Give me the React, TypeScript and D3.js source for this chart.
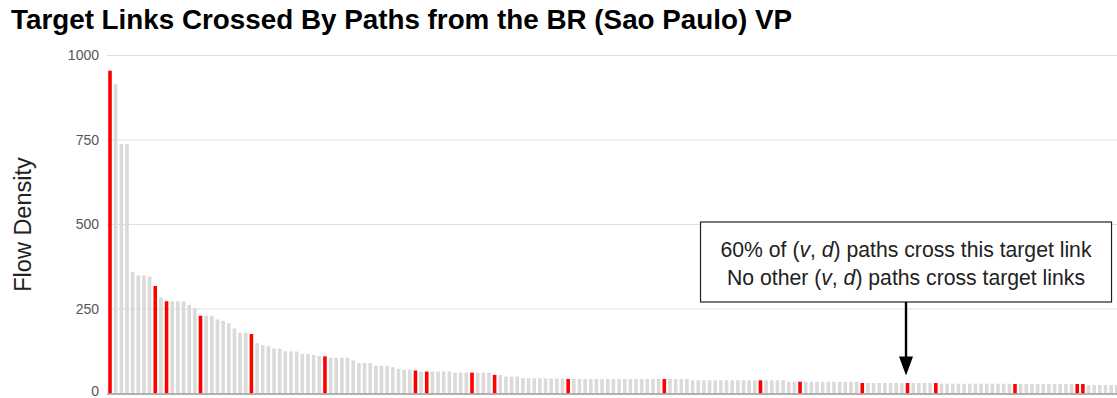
import React from "react";
import * as d3 from "d3";

// Flow density of each target link, sorted from highest to lowest
const flowDensity: number[] = [
  955, 915, 738, 738, 360, 349, 349, 346, 318, 284,
  273, 273, 273, 273, 262, 252, 230, 230, 230, 219,
  215, 208, 192, 180, 180, 176, 149, 143, 140, 133,
  133, 125, 125, 124, 117, 117, 114, 111, 110, 106,
  106, 106, 106, 98, 90, 90, 90, 82, 82, 82,
  78, 73, 70, 70, 68, 65, 65, 65, 65, 65,
  65, 62, 62, 62, 62, 62, 62, 62, 55, 55,
  50, 50, 50, 46, 45, 45, 45, 45, 44, 44,
  44, 43, 43, 43, 43, 43, 43, 43, 43, 43,
  43, 43, 43, 43, 43, 43, 43, 43, 43, 43,
  43, 43, 43, 39, 39, 39, 39, 39, 39, 39,
  39, 39, 39, 39, 39, 39, 39, 39, 39, 39,
  35, 35, 35, 35, 35, 35, 35, 35, 35, 35,
  35, 35, 35, 31, 31, 31, 31, 31, 31, 31,
  31, 31, 31, 31, 31, 31, 31, 29, 29, 29,
  29, 29, 29, 29, 29, 29, 29, 29, 29, 29,
  28, 28, 28, 28, 28, 28, 28, 28, 28, 28,
  28, 28, 28, 25, 25, 25, 25, 25, 25,
];

// Links crossed by paths from the vantage point (highlighted in red)
const crossedLinks: number[] = [
  0, 8, 10, 16, 25, 38, 54, 56, 64, 68, 81, 98, 115, 122, 133, 141, 146, 160, 171, 172,
];

// The link the annotation points at
const annotatedLink = 141;

const yTicks: number[] = [0, 250, 500, 750, 1000];

const titleText = "Target Links Crossed By Paths from the BR (Sao Paulo) VP";
const yAxisTitle = "Flow Density";

const W = 1117;
const H = 398;
const FONT = "'Liberation Sans', Arial, Helvetica, sans-serif";

export default function App() {
  const indices = flowDensity.map((_, i) => i);
  const x = d3
    .scaleBand<number>()
    .domain(indices)
    .range([108.2, 1118.6])
    .paddingInner(0.364)
    .paddingOuter(0);
  const y = d3.scaleLinear().domain([0, 1000]).range([393.5, 55.5]);
  const red = new Set(crossedLinks);

  const arrowX = (x(annotatedLink) as number) + x.bandwidth() / 2 - 1.5;
  const boxW = 411;
  const boxX = arrowX - boxW / 2;
  const boxY = 222;
  const boxH = 80;

  return (
    <svg
      width={W}
      height={H}
      style={{ position: "absolute", left: 0, top: 0, background: "#fff" }}
      fontFamily={FONT}
    >
      <rect x={0} y={0} width={W} height={H} fill="#fff" />
      <text x={11} y={29} fontSize={27.8} fontWeight="bold" fill="#000">
        {titleText}
      </text>

      {/* gridlines */}
      {yTicks
        .filter((t) => t > 0)
        .map((t) => (
          <line
            key={t}
            x1={107}
            x2={W}
            y1={y(t)}
            y2={y(t)}
            stroke="#e0e0e0"
            strokeWidth={1.2}
          />
        ))}

      {/* tick labels */}
      {yTicks.map((t) => (
        <text
          key={"l" + t}
          x={99}
          y={Math.min(y(t), 391)}
          dy="0.35em"
          textAnchor="end"
          fontSize={14}
          fill="#555"
        >
          {t}
        </text>
      ))}

      <text
        transform={`translate(31,224.5) rotate(-90)`}
        textAnchor="middle"
        fontSize={23.5}
        fill="#222"
      >
        {yAxisTitle}
      </text>

      {/* bars */}
      {flowDensity.map((v, i) => (
        <rect
          key={i}
          x={x(i)}
          y={y(v)}
          width={x.bandwidth()}
          height={y(0) - y(v)}
          fill={red.has(i) ? "#ff0000" : "#dadada"}
        />
      ))}

      {/* baseline */}
      <line x1={107} x2={W} y1={y(0) + 0.5} y2={y(0) + 0.5} stroke="#999" strokeWidth={1.6} />

      {/* annotation */}
      <rect x={boxX} y={boxY} width={boxW} height={boxH} fill="#fff" stroke="#222" strokeWidth={1.2} />
      <text x={arrowX} y={256.5} textAnchor="middle" fontSize={21.2} fill="#222">
        60% of (<tspan fontStyle="italic">v</tspan>, <tspan fontStyle="italic">d</tspan>) paths cross this target link
      </text>
      <text x={arrowX} y={285} textAnchor="middle" fontSize={21.2} fill="#222">
        No other (<tspan fontStyle="italic">v</tspan>, <tspan fontStyle="italic">d</tspan>) paths cross target links
      </text>
      <line x1={arrowX} x2={arrowX} y1={boxY + boxH} y2={358} stroke="#000" strokeWidth={2.4} />
      <path
        d={`M${arrowX - 7},356.5 L${arrowX + 7},356.5 L${arrowX},375.5 Z`}
        fill="#000"
      />
    </svg>
  );
}
